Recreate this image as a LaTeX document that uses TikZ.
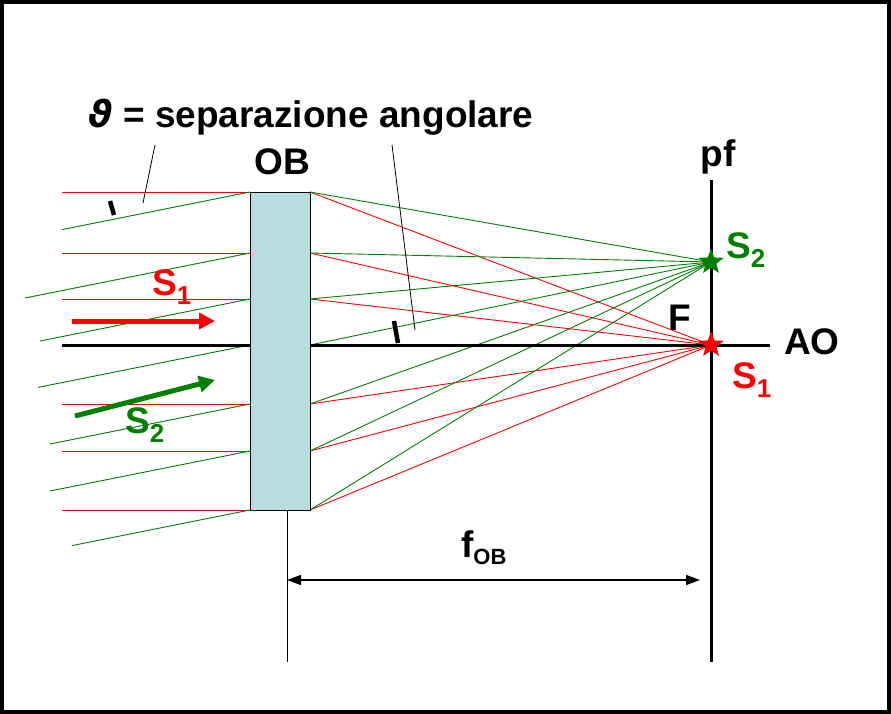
\documentclass[tikz,border=0pt]{standalone}
\usepackage{fontspec}
\setmainfont{Liberation Sans}
\newfontfamily\dvs{DejaVu Sans}
\usetikzlibrary{shapes.geometric,arrows.meta}
\definecolor{lensc}{RGB}{183,221,224}
\definecolor{gr}{RGB}{0,128,0}
\tikzset{
 lbl/.style={font=\bfseries\fontsize{37}{40}\selectfont,inner sep=0pt},
 rray/.style={red,line width=0.9pt},
 gray/.style={gr,line width=0.9pt},
 tick/.style={line width=4.5pt},
 starn/.style={star,star points=5,star point ratio=2.4,minimum size=27pt,inner sep=0pt}
}
\begin{document}
\begin{tikzpicture}[x=1pt,y=-1pt]
\useasboundingbox (0,0) rectangle (891,714);
\draw[line width=4pt] (2,2) rectangle (889,712);
\foreach \y in {192,253,299,404,451,510}{
 \draw[rray] (62,\y) -- (250,\y);
 \draw[rray] (310,\y) -- (711,345);
}
\foreach \y/\x in {192/62,253/25,299/40,345/38,404/50,451/50,510/72}{
 \draw[gray] (\x,{\y+0.2*(250-\x)}) -- (250,\y);
 \draw[gray] (310,\y) -- (711,262);
}
\node[draw,fill=lensc,line width=0.8pt,minimum width=60pt,minimum height=318pt,inner sep=0pt,anchor=north west] (lens) at (250,192) {};
\coordinate (axL) at (62,345); \coordinate (axR) at (770,345);
\draw[line width=3pt] (axL) -- (lens.west |- axL);
\draw[line width=3pt] (lens.east |- axL) -- (axR);
\draw[line width=3pt] (711,180) -- (711,662);
\node[starn,fill=red] (s1) at (711,345) {};
\node[starn,fill=gr] (s2) at (711,262) {};
\draw[red,line width=5pt,-{Triangle[length=16pt,width=16pt]}] (72,321) -- (215,321);
\draw[gr,line width=5pt,-{Triangle[length=16pt,width=16pt]}] (75,416) -- (215,380);
\draw[tick] (110,201) -- (114,215);
\draw[tick] (394,321) -- (398,343);
\node[lbl] (theta) at (311,117) {{\dvs\itshape ϑ} = separazione angolare};
\draw[line width=0.8pt] (155,145) -- (143,203);
\draw[line width=0.8pt] (392,145) -- (415,330);
\node[lbl] (ob) at (282,162) {OB};
\node[lbl] (pf) at (718,157) {pf};
\node[lbl] (F) at (680,318) {F};
\node[lbl] (ao) at (812,342) {AO};
\node[lbl,red] (l1) at (172,287) {S$_{\mathbf 1}$};
\node[lbl,gr] (l2) at (145,425) {S$_{\mathbf 2}$};
\node[lbl,gr] (r2) at (746,250) {S$_{\mathbf 2}$};
\node[lbl,red] (r1) at (752,380) {S$_{\mathbf 1}$};
\coordinate (lb) at (287,510);
\draw[line width=0.8pt] (lb) -- (287,662);
\draw[line width=1.2pt,{Triangle[length=14pt,width=10pt]}-{Triangle[length=14pt,width=10pt]}] (287,580) -- (700,580);
\node[lbl] (f) at (484,548) {f\textsubscript{\fontsize{22}{22}\selectfont OB}};
\end{tikzpicture}
\end{document}
